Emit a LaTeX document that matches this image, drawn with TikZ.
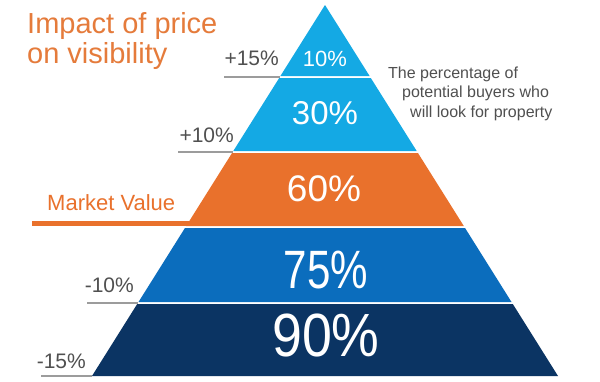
\documentclass[tikz,border=0pt]{standalone}
\usepackage{fontspec}
\setmainfont{Liberation Sans}
\definecolor{lblue}{HTML}{14A9E4}
\definecolor{mblue}{HTML}{0B6DBD}
\definecolor{navy}{HTML}{0B3463}
\definecolor{orng}{HTML}{E9712C}
\definecolor{torng}{HTML}{E57B3B}
\definecolor{gtext}{HTML}{505050}
\definecolor{gline}{HTML}{9C9C9C}
\tikzset{
  lbl/.style={inner sep=0pt, text=gtext, font=\fontsize{21}{25}\selectfont},
  pct/.style={inner sep=0pt, text=white},
  tick/.style={draw=gline, line width=2pt},
}
\begin{document}
\begin{tikzpicture}[x=1pt,y=-1pt]
\useasboundingbox[fill=white] (0,0) rectangle (600,381);
% bands
\fill[lblue] (325,5) -- (369.6,76) -- (280.4,76) -- cycle;
\fill[lblue] (279.2,78) -- (370.8,78) -- (416.7,151) -- (233.3,151) -- cycle;
\fill[orng] (232.05,153) -- (417.95,153) -- (463.8,226) -- (186.2,226) -- cycle;
\fill[mblue] (184.95,228) -- (465.05,228) -- (511.5,302) -- (138.5,302) -- cycle;
\fill[navy] (137.2,304) -- (512.8,304) -- (558,376) -- (92,376) -- cycle;
% percentages
\node[pct, font=\fontsize{22}{26}\selectfont] (p10) at (325,58.5) {10\%};
\node[pct, font=\fontsize{33}{38}\selectfont] (p30) at (325,113.5) {30\%};
\node[pct, font=\fontsize{37}{42}\selectfont] (p60) at (324,188.5) {60\%};
\node[pct, font=\fontsize{54}{60}\selectfont] (p75) at (326,270) {\scalebox{0.78}[1]{75\%}};
\node[pct, font=\fontsize{61}{68}\selectfont] (p90) at (326,335) {\scalebox{0.88}[1]{90\%}};
% title
\node[inner sep=0pt, anchor=base west, text=torng, font=\fontsize{29}{33}\selectfont] (t1) at (27,33) {Impact of price};
\node[inner sep=0pt, anchor=base west, text=torng, font=\fontsize{29}{33}\selectfont] (t2) at (27,63) {on visibility};
% description
\node[inner sep=0pt, anchor=base west, text=gtext, font=\fontsize{16}{19}\selectfont] (d1) at (388,78) {The percentage of};
\node[inner sep=0pt, anchor=base west, text=gtext, font=\fontsize{16}{19}\selectfont] (d2) at (402,97.5) {potential buyers who};
\node[inner sep=0pt, anchor=base west, text=gtext, font=\fontsize{16}{19}\selectfont] (d3) at (410,117) {will look for property};
% side labels
\node[lbl, anchor=base east] (l15) at (279,65) {+15\%};
\node[lbl, anchor=base east] (l10) at (234,142) {+10\%};
\node[lbl, anchor=base west, text=orng, font=\fontsize{22}{26}\selectfont] (mv) at (47,210) {Market Value};
\node[lbl, anchor=base east] (m10) at (134,292) {-10\%};
\node[lbl, anchor=base east] (m15) at (86,368) {-15\%};
% tick lines
\coordinate (a1) at (224,77); \coordinate (b1) at (280,77);
\coordinate (a2) at (178,152); \coordinate (b2) at (233,152);
\coordinate (a3) at (87,303); \coordinate (b3) at (138,303);
\coordinate (a4) at (41,376); \coordinate (b4) at (92,376);
\coordinate (am) at (32,223.5); \coordinate (bm) at (196,223.5);
\draw[tick] (a1) -- (b1);
\draw[tick] (a2) -- (b2);
\draw[tick] (a3) -- (b3);
\draw[tick] (a4) -- (b4);
\draw[orng, line width=5pt] (am) -- (bm);
\end{tikzpicture}
\end{document}
